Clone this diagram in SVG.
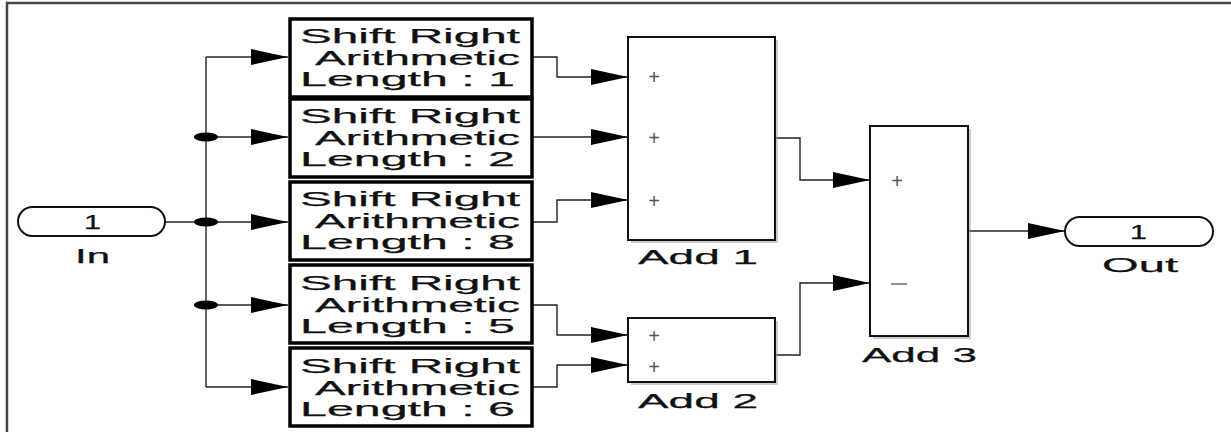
<svg xmlns="http://www.w3.org/2000/svg" width="1231" height="432" viewBox="0 0 1231 432">
<defs>
<style>
.frame{fill:none;stroke:#444;stroke-width:2.5}
.shift{fill:#fff;stroke:#000;stroke-width:3.5}
.sum{fill:#fff;stroke:#111;stroke-width:2}
.shadow{fill:#999;opacity:0.5}
.port{fill:#fff;stroke:#111;stroke-width:2}
.wire{fill:none;stroke:#222;stroke-width:1.4}
.t{font-family:"Liberation Sans",Arial,sans-serif;font-size:21px;fill:#111;stroke:#111;stroke-width:0.25}
.sign{font-family:"Liberation Sans",Arial,sans-serif;font-size:20px;fill:#555}
.dot{fill:#000}
</style>
<marker id="arr" viewBox="0 0 37 16" refX="37" refY="8" markerWidth="37" markerHeight="16" markerUnits="userSpaceOnUse" orient="auto">
<polygon points="0,0 37,8 0,16" fill="#000"/>
</marker>
</defs>
<rect width="1231" height="432" fill="#fff"/>
<path class="frame" d="M7,432 V3 H1231"/>

<g id="connectors">
<line class="wire" x1="165" y1="222" x2="206" y2="222"/>
<line class="wire" x1="206" y1="57" x2="206" y2="387"/>
<path class="wire" d="M206,57 H288" marker-end="url(#arr)"/>
<path class="wire" d="M206,137 H288" marker-end="url(#arr)"/>
<path class="wire" d="M206,222 H288" marker-end="url(#arr)"/>
<path class="wire" d="M206,305 H288" marker-end="url(#arr)"/>
<path class="wire" d="M206,387 H288" marker-end="url(#arr)"/>
<ellipse class="dot" cx="206" cy="137" rx="12" ry="4.5"/>
<ellipse class="dot" cx="206" cy="222" rx="12" ry="4.5"/>
<ellipse class="dot" cx="206" cy="305" rx="12" ry="4.5"/>
<path class="wire" d="M532,57 H557 V77 H628" marker-end="url(#arr)"/>
<path class="wire" d="M532,137 H628" marker-end="url(#arr)"/>
<path class="wire" d="M532,222 H557 V200 H628" marker-end="url(#arr)"/>
<path class="wire" d="M532,305 H557 V335 H628" marker-end="url(#arr)"/>
<path class="wire" d="M532,387 H557 V365 H628" marker-end="url(#arr)"/>
<path class="wire" d="M775,138 H800 V180 H870" marker-end="url(#arr)"/>
<path class="wire" d="M775,355 H800 V283 H870" marker-end="url(#arr)"/>
<path class="wire" d="M968,231 H1065" marker-end="url(#arr)"/>
</g>

<g id="in">
<rect class="port" x="18" y="207" width="147" height="29" rx="14.5"/>
<text class="t" x="84" y="229" textLength="17" lengthAdjust="spacingAndGlyphs">1</text>
<text class="t" x="75" y="263" textLength="35" lengthAdjust="spacingAndGlyphs">In</text>
</g>

<g id="shift1">
<rect class="shift" x="290" y="19" width="242" height="78"/>
<text class="t" x="300" y="43" textLength="220" lengthAdjust="spacingAndGlyphs">Shift Right</text>
<text class="t" x="315" y="65" textLength="205" lengthAdjust="spacingAndGlyphs">Arithmetic</text>
<text class="t" x="300" y="86" textLength="215" lengthAdjust="spacingAndGlyphs">Length : 1</text>
</g>
<g id="shift2">
<rect class="shift" x="290" y="99" width="242" height="78"/>
<text class="t" x="300" y="123" textLength="220" lengthAdjust="spacingAndGlyphs">Shift Right</text>
<text class="t" x="315" y="145" textLength="205" lengthAdjust="spacingAndGlyphs">Arithmetic</text>
<text class="t" x="300" y="166" textLength="215" lengthAdjust="spacingAndGlyphs">Length : 2</text>
</g>
<g id="shift3">
<rect class="shift" x="290" y="182" width="242" height="78"/>
<text class="t" x="300" y="206" textLength="220" lengthAdjust="spacingAndGlyphs">Shift Right</text>
<text class="t" x="315" y="228" textLength="205" lengthAdjust="spacingAndGlyphs">Arithmetic</text>
<text class="t" x="300" y="249" textLength="215" lengthAdjust="spacingAndGlyphs">Length : 8</text>
</g>
<g id="shift4">
<rect class="shift" x="290" y="265" width="242" height="78"/>
<text class="t" x="300" y="290" textLength="220" lengthAdjust="spacingAndGlyphs">Shift Right</text>
<text class="t" x="315" y="312" textLength="205" lengthAdjust="spacingAndGlyphs">Arithmetic</text>
<text class="t" x="300" y="333" textLength="215" lengthAdjust="spacingAndGlyphs">Length : 5</text>
</g>
<g id="shift5">
<rect class="shift" x="290" y="348" width="242" height="78"/>
<text class="t" x="300" y="373" textLength="220" lengthAdjust="spacingAndGlyphs">Shift Right</text>
<text class="t" x="315" y="395" textLength="205" lengthAdjust="spacingAndGlyphs">Arithmetic</text>
<text class="t" x="300" y="416" textLength="215" lengthAdjust="spacingAndGlyphs">Length : 6</text>
</g>

<g id="add1">
<rect class="shadow" x="631" y="40" width="147" height="203"/>
<rect class="sum" x="628" y="37" width="147" height="203"/>
<text class="sign" x="654" y="84" text-anchor="middle">+</text>
<text class="sign" x="654" y="145" text-anchor="middle">+</text>
<text class="sign" x="654" y="208" text-anchor="middle">+</text>
<text class="t" x="638" y="264" textLength="120" lengthAdjust="spacingAndGlyphs">Add 1</text>
</g>
<g id="add2">
<rect class="shadow" x="631" y="321" width="147" height="64"/>
<rect class="sum" x="628" y="318" width="147" height="64"/>
<text class="sign" x="654" y="343" text-anchor="middle">+</text>
<text class="sign" x="654" y="374" text-anchor="middle">+</text>
<text class="t" x="638" y="408" textLength="120" lengthAdjust="spacingAndGlyphs">Add 2</text>
</g>
<g id="add3">
<rect class="shadow" x="873" y="129" width="98" height="210"/>
<rect class="sum" x="870" y="126" width="98" height="210"/>
<text class="sign" x="897" y="188" text-anchor="middle">+</text>
<line x1="891" y1="284" x2="907" y2="284" stroke="#555" stroke-width="1.3"/>
<text class="t" x="862" y="362" textLength="115" lengthAdjust="spacingAndGlyphs">Add 3</text>
</g>

<g id="out">
<rect class="port" x="1065" y="217" width="148" height="29" rx="14.5"/>
<text class="t" x="1130" y="239" textLength="17" lengthAdjust="spacingAndGlyphs">1</text>
<text class="t" x="1102" y="272" textLength="76" lengthAdjust="spacingAndGlyphs">Out</text>
</g>
</svg>
